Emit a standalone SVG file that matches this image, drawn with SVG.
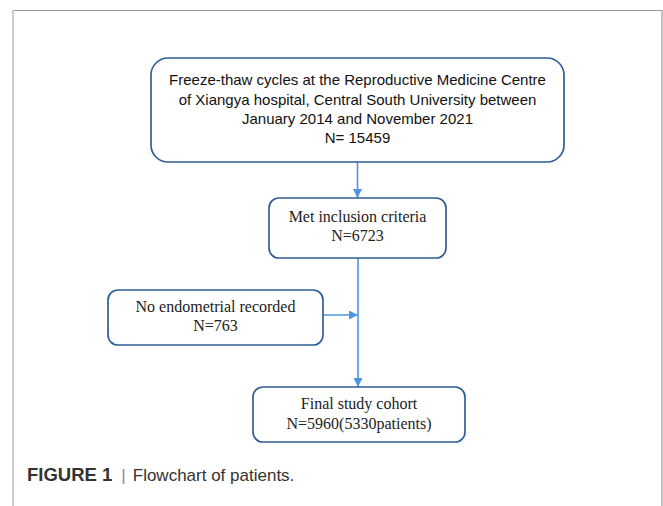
<svg xmlns="http://www.w3.org/2000/svg" width="663" height="506" viewBox="0 0 663 506">
<defs>
<marker id="ah" viewBox="0 0 10 10" refX="10" refY="5" markerWidth="9" markerHeight="9" orient="auto" markerUnits="userSpaceOnUse">
<path d="M0,0 L10,5 L0,10 z" fill="#4f95dc"/>
</marker>
<style>
.box{fill:#fff;stroke:#2f5e97;stroke-width:1.7}
.cal{font-family:"Liberation Sans",Arial,sans-serif;font-size:15px;fill:#111;text-anchor:middle}
.tnr{font-family:"Liberation Serif","Times New Roman",serif;font-size:16px;fill:#222;text-anchor:middle}
.conn{stroke:#4f95dc;stroke-width:1.6;fill:none}
</style>
</defs>
<rect width="663" height="506" fill="#fff"/>
<g id="frame">
<line x1="13" y1="10.5" x2="662" y2="10.5" stroke="#999" stroke-width="1.2"/>
<line x1="662" y1="10" x2="662" y2="506" stroke="#999" stroke-width="1.2"/>
<line x1="13" y1="10" x2="13" y2="506" stroke="#ccc" stroke-width="2"/>
</g>
<g id="connectors">
<line class="conn" x1="357.5" y1="162" x2="357.5" y2="198" marker-end="url(#ah)"/>
<line class="conn" x1="358" y1="258" x2="358" y2="387" marker-end="url(#ah)"/>
<line class="conn" x1="323" y1="315" x2="358" y2="315" marker-end="url(#ah)"/>
</g>
<g id="n1">
<rect class="box" x="151" y="58" width="413" height="104" rx="17"/>
<text class="cal" x="357.5" y="85">Freeze-thaw cycles at the Reproductive Medicine Centre</text>
<text class="cal" x="357.5" y="105">of Xiangya hospital, Central South University between</text>
<text class="cal" x="357.5" y="124">January 2014 and November 2021</text>
<text class="cal" x="357.5" y="143">N= 15459</text>
</g>
<g id="n2">
<rect class="box" x="269" y="198" width="177" height="60" rx="10"/>
<text class="tnr" x="357.5" y="222">Met inclusion criteria</text>
<text class="tnr" x="357.5" y="241">N=6723</text>
</g>
<g id="n3">
<rect class="box" x="108" y="290" width="215" height="55" rx="10"/>
<text class="tnr" x="215.5" y="312">No endometrial recorded</text>
<text class="tnr" x="215.5" y="331">N=763</text>
</g>
<g id="n4">
<rect class="box" x="253" y="387" width="212" height="55" rx="10"/>
<text class="tnr" x="359" y="409">Final study cohort</text>
<text class="tnr" x="359" y="429">N=5960(5330patients)</text>
</g>
<g id="caption">
<text x="27" y="481" font-family="'Liberation Sans',Arial,sans-serif" font-size="17" fill="#333"><tspan font-weight="bold" font-size="18.5">FIGURE 1</tspan><tspan fill="#888" dx="9">|</tspan><tspan dx="7">Flowchart of patients.</tspan></text>
</g>
</svg>
